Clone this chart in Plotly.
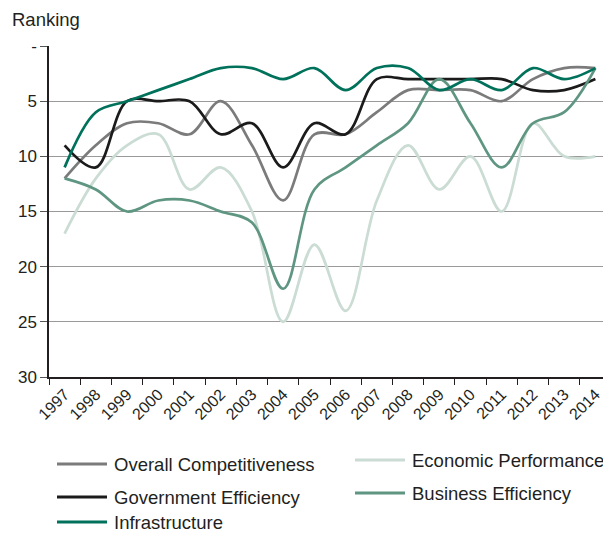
import plotly.graph_objects as go

years = [str(y) for y in range(1997, 2015)]
overall = [12, 9, 7, 7, 8, 5, 9, 14, 8, 8, 6, 4, 4, 4, 5, 3, 2, 2]
economic = [17, 12, 9, 8, 13, 11, 15, 25, 18, 24, 14, 9, 13, 10, 15, 7, 10, 10]
government = [9, 11, 5, 5, 5, 8, 7, 11, 7, 8, 3, 3, 3, 3, 3, 4, 4, 3]
business = [12, 13, 15, 14, 14, 15, 16, 22, 13, 11, 9, 7, 3, 7, 11, 7, 6, 2]
infrastructure = [11, 6, 5, 4, 3, 2, 2, 3, 2, 4, 2, 2, 4, 3, 4, 2, 3, 2]

# legend sample positions given in page pixels
series = [
    ("Overall Competitiveness", overall, "#7b7b7b", 57, 464),
    ("Economic Performance", economic, "#cadcd3", 355, 460),
    ("Government Efficiency", government, "#1b1b1b", 57, 497),
    ("Business Efficiency", business, "#5f9682", 355, 493),
    ("Infrastructure", infrastructure, "#00715a", 57, 522),
]

OFF = 8  # page body margin
W, H = 611 - OFF, 534 - OFF
L, R, T = 49 - OFF, 0, 46 - OFF
PLOT_BOTTOM = 377 - OFF
B = H - PLOT_BOTTOM
PW, PH = W - L - R, H - T - B


def px_x(x):
    return (x - OFF - L) / PW


def px_y(y):
    return (PLOT_BOTTOM - (y - OFF)) / PH


FAM = "Liberation Sans, Arial, sans-serif"
TXT = dict(family=FAM, size=18.5, color="#231f20")

fig = go.Figure()
shapes, annotations = [], []
for name, vals, color, lx, ly in series:
    fig.add_trace(go.Scatter(
        x=years, y=vals, name=name, mode="lines",
        line=dict(color=color, width=2.7, shape="spline", smoothing=1.0),
        showlegend=False,
    ))
    shapes.append(dict(type="line", xref="paper", yref="paper",
                       x0=px_x(lx), x1=px_x(lx + 50), y0=px_y(ly), y1=px_y(ly),
                       line=dict(color=color, width=3)))
    annotations.append(dict(text=name, x=px_x(lx + 55), y=px_y(ly), xref="paper", yref="paper",
                            xanchor="left", yanchor="middle", showarrow=False, font=TXT))

annotations.append(dict(
    text="Ranking", x=px_x(10), y=px_y(20), xref="paper", yref="paper",
    xanchor="left", yanchor="middle", showarrow=False, font=TXT,
))

fig.update_layout(
    width=W, height=H,
    margin=dict(l=L, r=R, t=T, b=B),
    paper_bgcolor="white", plot_bgcolor="white",
    font=dict(family=FAM, size=15, color="#231f20"),
    showlegend=False,
    xaxis=dict(
        type="category", tickson="boundaries", ticks="outside", ticklen=6,
        tickcolor="#231f20", showline=True, linecolor="#231f20", linewidth=1.5,
        showgrid=False, tickangle=-45, tickfont=dict(size=16),
        range=[-0.5, 17.5], automargin=False,
    ),
    yaxis=dict(
        range=[30, 0], tickvals=[0, 5, 10, 15, 20, 25, 30],
        ticktext=["-", "5", "10", "15", "20", "25", "30"],
        ticks="outside", ticklen=7, tickcolor="#555555",
        showline=True, linecolor="#231f20", linewidth=1.5,
        showgrid=True, gridcolor="#9a9a9a", gridwidth=1,
        zeroline=False, tickfont=dict(size=17), automargin=False,
    ),
    shapes=shapes,
    annotations=annotations,
)

fig.write_html("out.html")
